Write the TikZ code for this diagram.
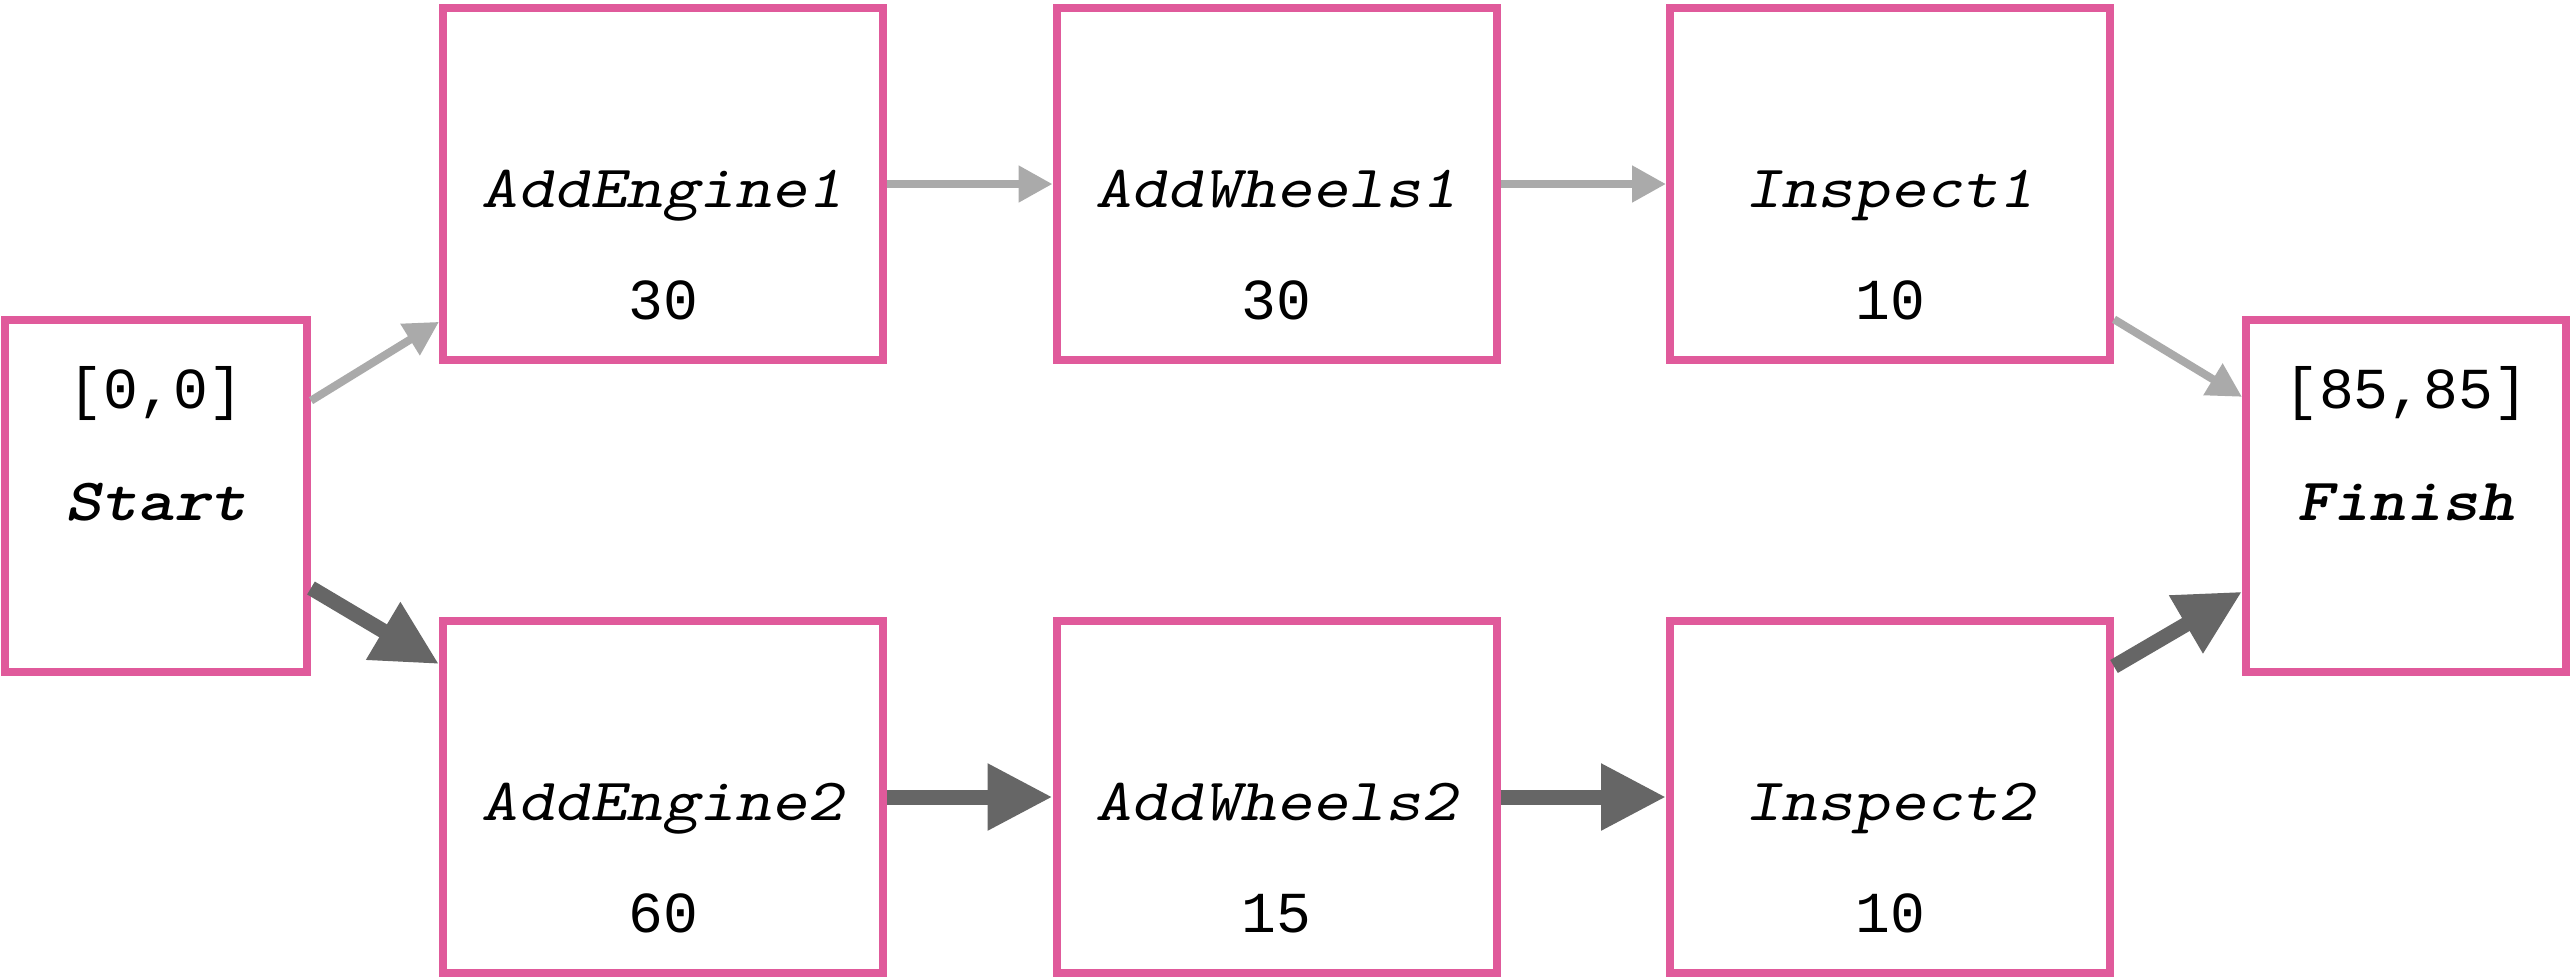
\documentclass[tikz,border=0pt]{standalone}
\usepackage{fontspec}
\usetikzlibrary{arrows.meta}

% Fonts: sans mono for numbers, slanted typewriter for task names
\newfontfamily\numfont{Liberation Mono}
\newfontfamily\taskfont{lmmonoslant10-regular.otf}[FakeStretch=1.15]
\newfontfamily\endfont{lmmonolt10-boldoblique.otf}[FakeStretch=1.15]

\definecolor{boxpink}{HTML}{E05A9B}
\definecolor{lightarrow}{HTML}{AAAAAA}
\definecolor{darkarrow}{HTML}{666666}

\begin{document}
\begin{tikzpicture}[x=0.25pt,y=-0.25pt,
  taskbox/.style={draw=boxpink, line width=2pt, minimum width=110pt,
    minimum height=88pt, inner sep=0pt},
  lite/.style={draw=lightarrow, line width=2pt,
    -{Triangle[length=8.5pt,width=8.75pt]}},
  heavy/.style={draw=darkarrow, line width=3.75pt,
    -{Triangle[length=16.25pt,width=15.75pt]}},
  tname/.style={font=\taskfont\fontsize{15pt}{18pt}\selectfont, anchor=base, inner sep=0pt},
  ename/.style={font=\endfont\fontsize{15pt}{18pt}\selectfont, anchor=base, inner sep=0pt},
  tnum/.style={font=\numfont\fontsize{14.5pt}{17pt}\selectfont, anchor=base, inner sep=0pt}]

\fill[white] (0,0) rectangle (2571,978);
\useasboundingbox (0,0) rectangle (2571,978);

% boxes
\node[taskbox, minimum width=75.5pt] (start) at (156,496) {};
\node[taskbox] (e1) at (663,184) {};
\node[taskbox] (w1) at (1276.5,184) {};
\node[taskbox] (i1) at (1890,184) {};
\node[taskbox] (e2) at (663,797) {};
\node[taskbox] (w2) at (1276.5,797) {};
\node[taskbox] (i2) at (1890,797) {};
\node[taskbox, minimum width=80pt] (finish) at (2406,496) {};

% start / finish texts
\node[tnum] (startval) at (156,408) {[0,0]};
\node[ename] (startname) at (156,520) {Start};
\node[tnum] (finishval) at (2406,408) {[85,85]};
\node[ename] (finishname) at (2406,520) {Finish};

% task texts, upper line
\node[tname] (e1name) at (663,207) {AddEngine1};
\node[tnum]  (e1dur)  at (663,319) {30};
\node[tname] (w1name) at (1276.5,207) {AddWheels1};
\node[tnum]  (w1dur)  at (1276.5,319) {30};
\node[tname] (i1name) at (1890,207) {Inspect1};
\node[tnum]  (i1dur)  at (1890,319) {10};

% task texts, lower line
\node[tname] (e2name) at (663,820) {AddEngine2};
\node[tnum]  (e2dur)  at (663,932) {60};
\node[tname] (w2name) at (1276.5,820) {AddWheels2};
\node[tnum]  (w2dur)  at (1276.5,932) {15};
\node[tname] (i2name) at (1890,820) {Inspect2};
\node[tnum]  (i2dur)  at (1890,932) {10};

% connectors
\draw[lite] (start) -- (e1);
\draw[lite] (e1) -- (w1);
\draw[lite] (w1) -- (i1);
\draw[lite] (i1) -- (finish);
\draw[heavy] (start) -- (e2);
\draw[heavy] (e2) -- (w2);
\draw[heavy] (w2) -- (i2);
\draw[heavy] (i2) -- (finish);
\end{tikzpicture}
\end{document}
